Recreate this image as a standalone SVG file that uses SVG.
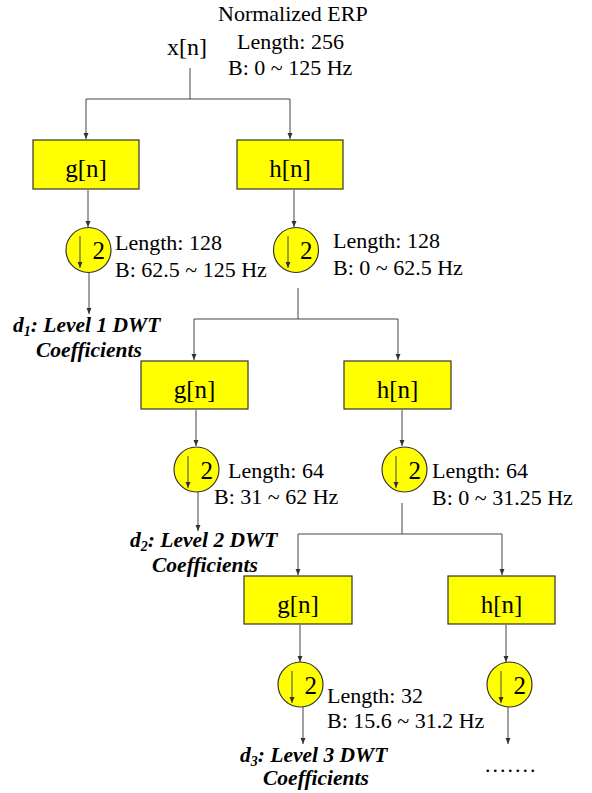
<svg xmlns="http://www.w3.org/2000/svg" width="592" height="793" viewBox="0 0 592 793">
<defs>
<marker id="ah" viewBox="0 0 6 6" refX="6" refY="3" markerWidth="6" markerHeight="6" markerUnits="userSpaceOnUse" orient="auto">
<path d="M0,0.5 L6,3 L0,5.5 Z" fill="#333"/>
</marker>
<style>
.box{fill:#FFFF00;stroke:#333;stroke-width:1.2}
.cir{fill:#FFFF00;stroke:#333;stroke-width:1.2}
.ln{fill:none;stroke:#444;stroke-width:1}
.arr{fill:none;stroke:#444;stroke-width:1;marker-end:url(#ah)}
</style>
</defs>
<rect width="592" height="793" fill="#fff"/>

<g id="labels">
<text font-family="Liberation Serif" font-size="22" x="218" y="21">Normalized ERP</text>
<text font-family="Liberation Serif" font-size="24" x="167" y="55">x[n]</text>
<text font-family="Liberation Serif" font-size="22" x="237" y="49">Length: 256</text>
<text font-family="Liberation Serif" font-size="22" x="228" y="75">B: 0 ~ 125 Hz</text>
<text font-family="Liberation Serif" font-size="22" x="115" y="250">Length: 128</text>
<text font-family="Liberation Serif" font-size="22" x="115" y="277">B: 62.5 ~ 125 Hz</text>
<text font-family="Liberation Serif" font-size="22" x="333" y="248">Length: 128</text>
<text font-family="Liberation Serif" font-size="22" x="333" y="275">B: 0 ~ 62.5 Hz</text>
<text font-family="Liberation Serif" font-size="22" x="228" y="478">Length: 64</text>
<text font-family="Liberation Serif" font-size="22" x="214" y="504">B: 31 ~ 62 Hz</text>
<text font-family="Liberation Serif" font-size="22" x="432" y="478">Length: 64</text>
<text font-family="Liberation Serif" font-size="22" x="432" y="505">B: 0 ~ 31.25 Hz</text>
<text font-family="Liberation Serif" font-size="22" x="327" y="703">Length: 32</text>
<text font-family="Liberation Serif" font-size="22" x="327" y="728">B: 15.6 ~ 31.2 Hz</text>
<text font-family="Liberation Serif" font-size="21.5" font-weight="bold" font-style="italic" x="13" y="332">d<tspan font-size="14" dy="4">1</tspan><tspan dy="-4">: Level 1 DWT</tspan></text>
<text font-family="Liberation Serif" font-size="21.5" font-weight="bold" font-style="italic" x="36" y="357">Coefficients</text>
<text font-family="Liberation Serif" font-size="21.5" font-weight="bold" font-style="italic" x="130" y="547">d<tspan font-size="14" dy="4">2</tspan><tspan dy="-4">: Level 2 DWT</tspan></text>
<text font-family="Liberation Serif" font-size="21.5" font-weight="bold" font-style="italic" x="152" y="572">Coefficients</text>
<text font-family="Liberation Serif" font-size="21.5" font-weight="bold" font-style="italic" x="240" y="762">d<tspan font-size="14" dy="4">3</tspan><tspan dy="-4">: Level 3 DWT</tspan></text>
<text font-family="Liberation Serif" font-size="21.5" font-weight="bold" font-style="italic" x="263" y="785">Coefficients</text>
<text font-family="Liberation Serif" font-size="22" letter-spacing="2" x="485" y="772">.......</text>
</g>

<g id="connectors">
<path class="ln" d="M190 68 V99 M86 99 H290"/>
<path class="arr" d="M86 99 V139"/>
<path class="arr" d="M290 99 V139"/>
<path class="arr" d="M88 190 V227"/>
<path class="arr" d="M294 190 V227"/>
<path class="arr" d="M89 273 V314"/>
<path class="ln" d="M298 288 V319 M194 319 H398"/>
<path class="arr" d="M194 319 V360"/>
<path class="arr" d="M398 319 V360"/>
<path class="arr" d="M196 410 V446"/>
<path class="arr" d="M402 410 V446"/>
<path class="arr" d="M198 492 V531"/>
<path class="ln" d="M402 503 V534 M298 534 H502"/>
<path class="arr" d="M298 534 V575"/>
<path class="arr" d="M502 534 V575"/>
<path class="arr" d="M300 625 V662"/>
<path class="arr" d="M506 625 V662"/>
<path class="arr" d="M303 707 V744"/>
<path class="arr" d="M508 707 V744"/>
</g>

<g id="g1"><rect class="box" x="33" y="140" width="106" height="49"/><text font-family="Times New Roman, Liberation Serif, serif" font-size="25" x="65.2" y="177">g[n]</text></g>
<g id="h1"><rect class="box" x="237" y="140" width="106" height="49"/><text font-family="Times New Roman, Liberation Serif, serif" font-size="25" x="269.2" y="177">h[n]</text></g>
<g id="g2"><rect class="box" x="141" y="361" width="107" height="48"/><text font-family="Times New Roman, Liberation Serif, serif" font-size="25" x="173.7" y="398">g[n]</text></g>
<g id="h2"><rect class="box" x="344" y="361" width="107" height="48"/><text font-family="Times New Roman, Liberation Serif, serif" font-size="25" x="376.7" y="398">h[n]</text></g>
<g id="g3"><rect class="box" x="244" y="576" width="108" height="48"/><text font-family="Times New Roman, Liberation Serif, serif" font-size="25" x="277.2" y="613">g[n]</text></g>
<g id="h3"><rect class="box" x="448" y="576" width="107" height="48"/><text font-family="Times New Roman, Liberation Serif, serif" font-size="25" x="480.7" y="613">h[n]</text></g>

<g id="ds1"><circle class="cir" cx="88.5" cy="250" r="22.5"/><path class="arr" d="M80 236 V268"/><text font-family="Times New Roman, Liberation Serif, serif" font-size="25" x="92.5" y="259">2</text></g>
<g id="ds2"><circle class="cir" cx="296" cy="250" r="22.5"/><path class="arr" d="M288 236 V268"/><text font-family="Times New Roman, Liberation Serif, serif" font-size="25" x="300" y="259">2</text></g>
<g id="ds3"><circle class="cir" cx="196.5" cy="469.5" r="22.5"/><path class="arr" d="M188 456 V488"/><text font-family="Times New Roman, Liberation Serif, serif" font-size="25" x="200.5" y="478.5">2</text></g>
<g id="ds4"><circle class="cir" cx="404.5" cy="469.5" r="22.5"/><path class="arr" d="M396 456 V488"/><text font-family="Times New Roman, Liberation Serif, serif" font-size="25" x="408.5" y="478.5">2</text></g>
<g id="ds5"><circle class="cir" cx="300.5" cy="684.5" r="22.5"/><path class="arr" d="M292 671 V703"/><text font-family="Times New Roman, Liberation Serif, serif" font-size="25" x="304.5" y="693.5">2</text></g>
<g id="ds6"><circle class="cir" cx="509.5" cy="684.5" r="22.5"/><path class="arr" d="M501 671 V703"/><text font-family="Times New Roman, Liberation Serif, serif" font-size="25" x="513.5" y="693.5">2</text></g>
</svg>
